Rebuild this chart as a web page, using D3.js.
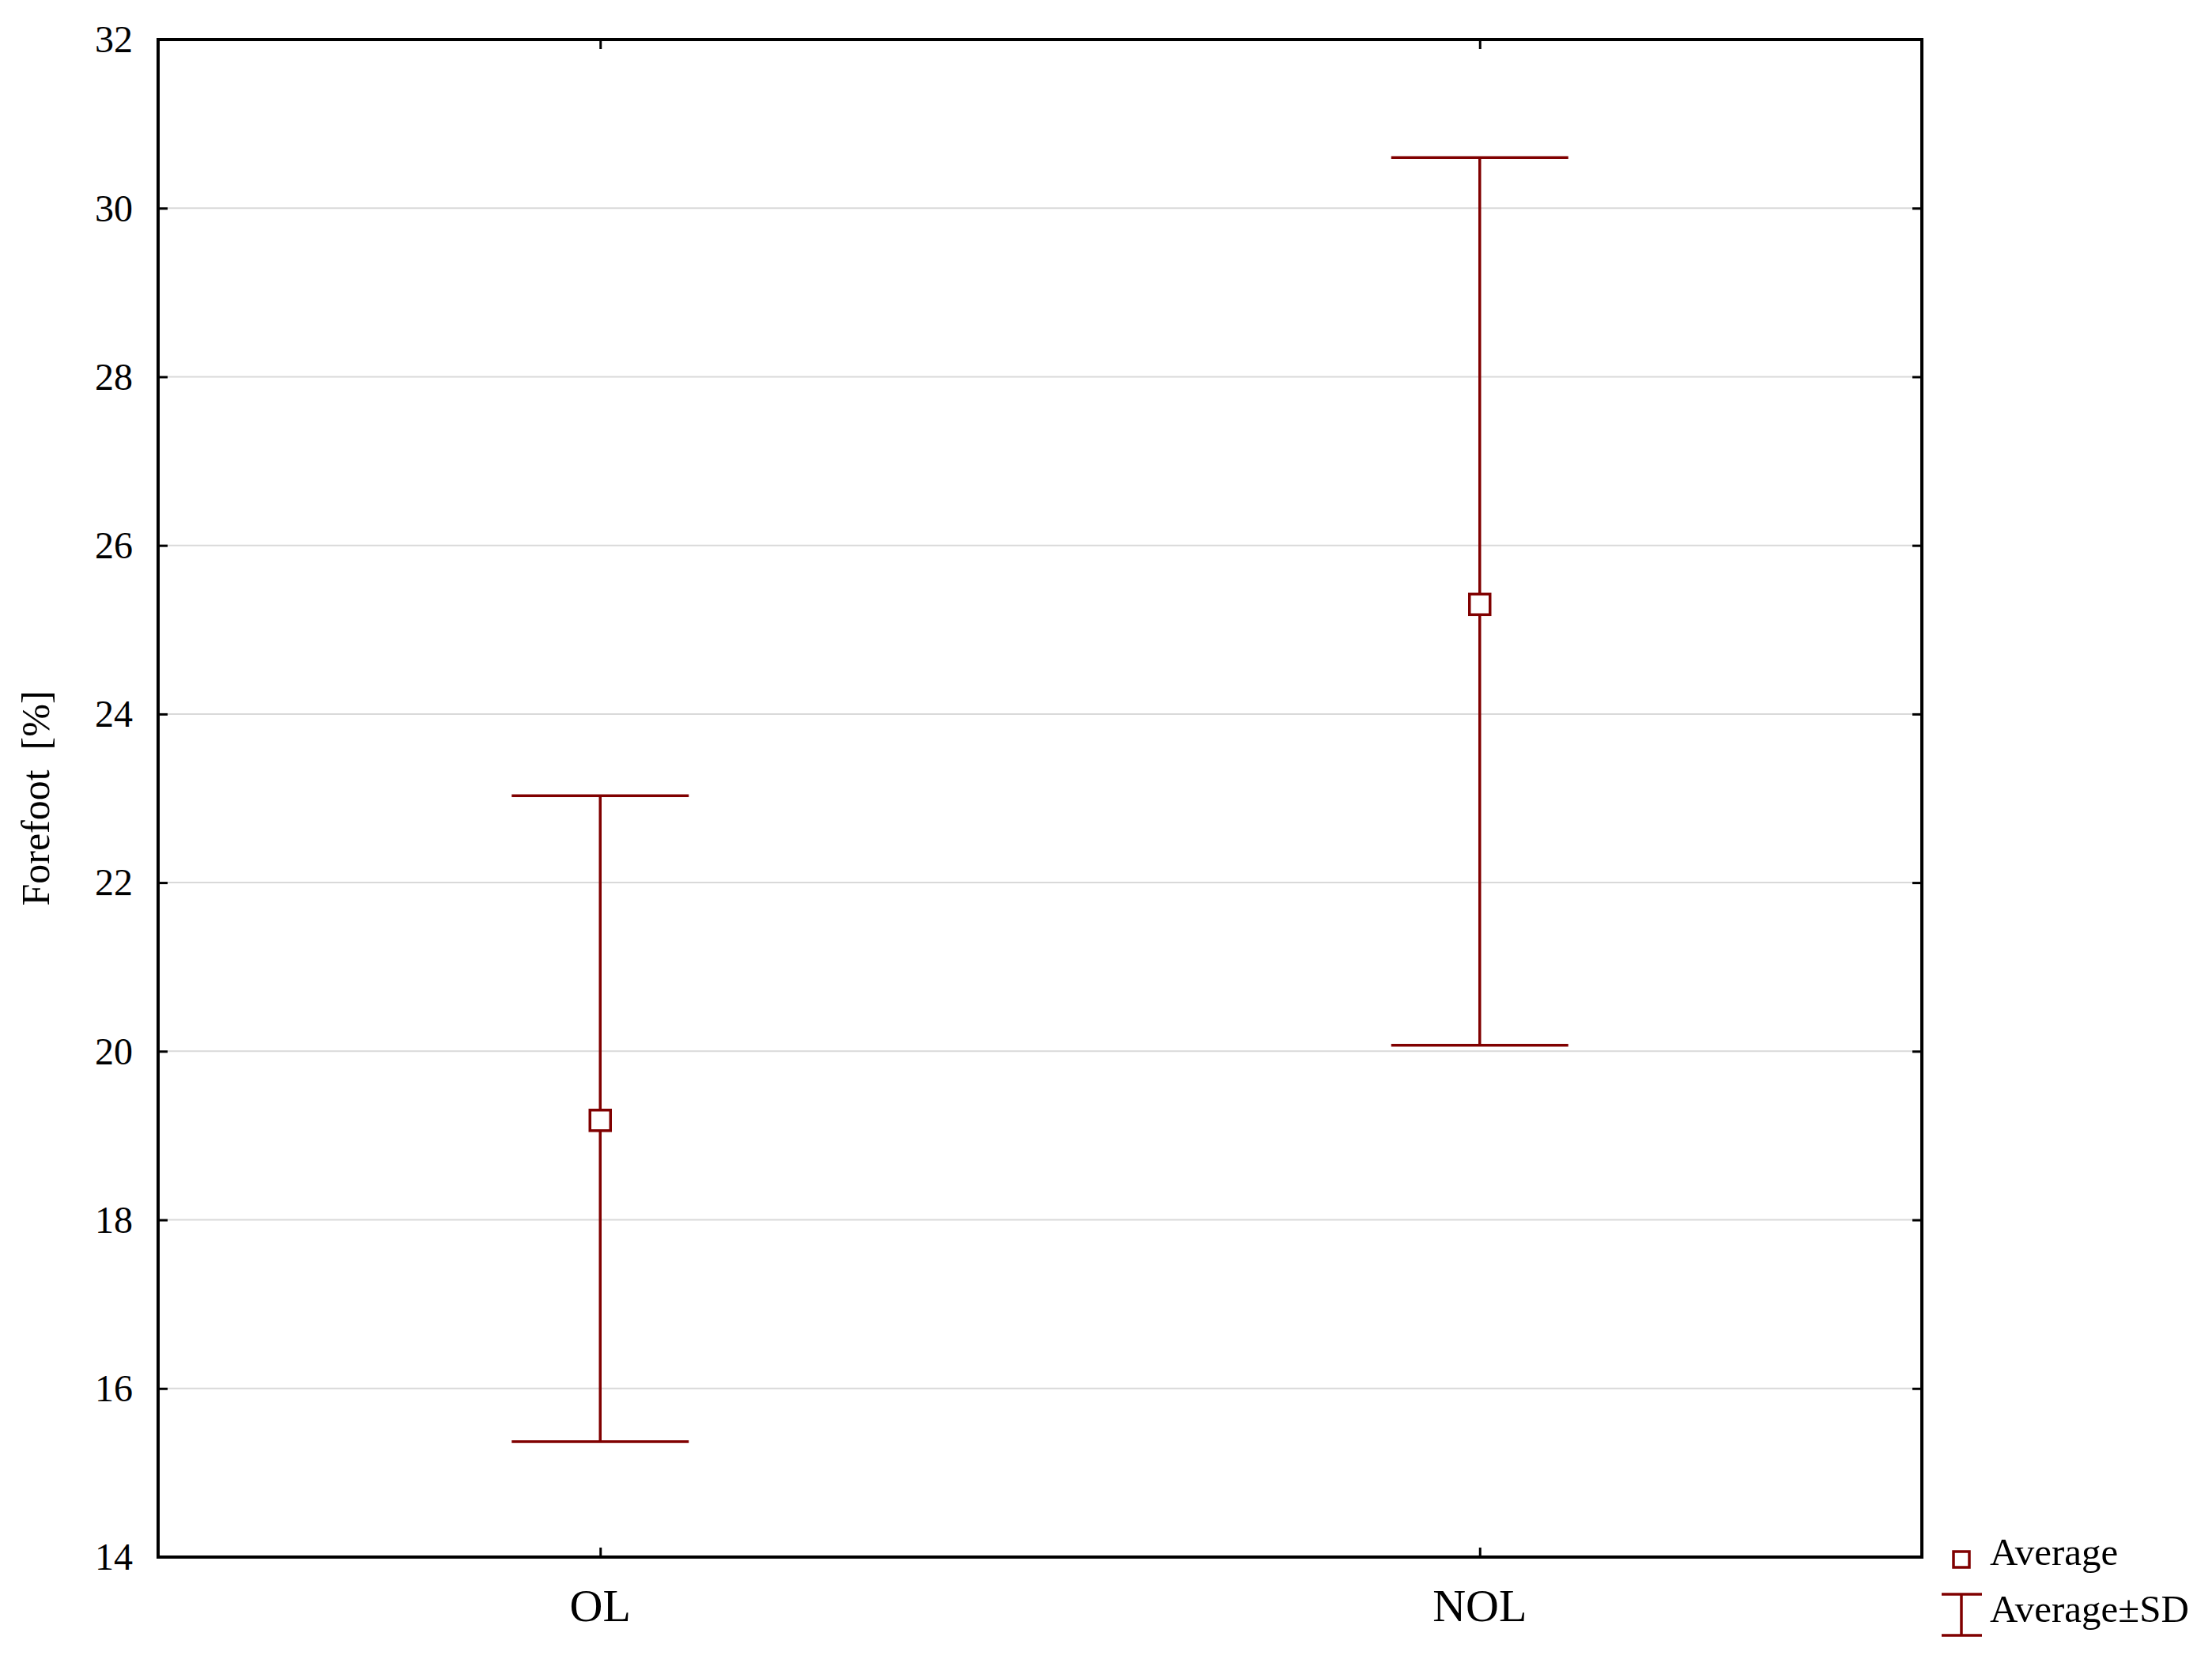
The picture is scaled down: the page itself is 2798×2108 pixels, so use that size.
<!DOCTYPE html>
<html>
<head>
  <meta charset="utf-8">
  <title>Forefoot [%] – Average ± SD</title>
  <script src="https://d3js.org/d3.v7.min.js"></script>
  <style>
    body { margin: 0; background: #fff; }
    text { font-family: "Liberation Serif", "Times New Roman", serif; fill: #000; }
    .grid line { stroke: #d9d9d9; stroke-width: 2px; }
    .axis path { display: none; }
    .axis line { stroke: #000; stroke-width: 3px; }
    .axis text { font-size: 48px; }
    .xlabel { font-size: 58px; }
    .frame { fill: none; stroke: #000; stroke-width: 4px; }
    .bar line { stroke: #800000; stroke-width: 3.5px; }
    .mean { fill: #fff; stroke: #800000; stroke-width: 3.5px; }
  </style>
</head>
<body>
  <svg width="2798" height="2108"></svg>
  <script>
    // data
    const groups = ["OL", "NOL"];
    const means = [19.18, 25.30];
    const lower = [15.37, 20.07];
    const upper = [23.03, 30.60];
    const yTicks = [14, 16, 18, 20, 22, 24, 26, 28, 30, 32];

    const svg = d3.select("svg");
    const margin = {top: 50, right: 367, bottom: 139, left: 200};
    const width = +svg.attr("width") - margin.left - margin.right,
          height = +svg.attr("height") - margin.top - margin.bottom;
    const red = "#800000";

    const g = svg.append("g").attr("transform", `translate(${margin.left},${margin.top})`);

    const x = d3.scalePoint().domain(groups).range([3, width - 3]).padding(0.5);
    const y = d3.scaleLinear().domain([14, 32]).range([height, 0]);

    // horizontal grid
    g.append("g").attr("class", "grid")
      .selectAll("line")
      .data(yTicks.slice(1, -1))
      .join("line")
      .attr("x1", 0).attr("x2", width)
      .attr("y1", d => y(d)).attr("y2", d => y(d));

    // left axis with inward ticks
    const left = g.append("g").attr("class", "axis")
      .call(d3.axisLeft(y).tickValues(yTicks).tickSize(-12).tickPadding(32).tickFormat(d3.format("d")));
    left.selectAll("text").attr("dy", "0.33em");

    // right axis ticks
    g.append("g").attr("class", "axis")
      .attr("transform", `translate(${width},0)`)
      .call(d3.axisRight(y).tickValues(yTicks).tickSize(-12).tickFormat(""));

    // top / bottom ticks at the categories
    g.append("g").attr("class", "axis")
      .call(d3.axisTop(x).tickSize(-12).tickFormat(""));
    const bottom = g.append("g").attr("class", "axis")
      .attr("transform", `translate(0,${height})`)
      .call(d3.axisBottom(x).tickSize(-12).tickPadding(0));
    bottom.selectAll("text").remove();

    g.selectAll(".xlabel")
      .data(groups)
      .join("text")
      .attr("class", "xlabel")
      .attr("x", d => x(d))
      .attr("y", height + 81)
      .attr("text-anchor", "middle")
      .text(d => d);

    // error bars (average ± SD)
    const capW = 112;
    const bars = g.selectAll(".bar")
      .data(groups.map((d, i) => ({g: d, m: means[i], lo: lower[i], hi: upper[i]})))
      .join("g")
      .attr("class", "bar");

    bars.append("line")
      .attr("x1", d => x(d.g)).attr("x2", d => x(d.g))
      .attr("y1", d => y(d.hi)).attr("y2", d => y(d.lo));
    bars.append("line")
      .attr("x1", d => x(d.g) - capW).attr("x2", d => x(d.g) + capW)
      .attr("y1", d => y(d.hi)).attr("y2", d => y(d.hi));
    bars.append("line")
      .attr("x1", d => x(d.g) - capW).attr("x2", d => x(d.g) + capW)
      .attr("y1", d => y(d.lo)).attr("y2", d => y(d.lo));

    const sq = 26;
    bars.append("rect")
      .attr("class", "mean")
      .attr("x", d => x(d.g) - sq / 2)
      .attr("y", d => y(d.m) - sq / 2)
      .attr("width", sq).attr("height", sq);

    // plot frame
    g.append("rect").attr("class", "frame")
      .attr("width", width).attr("height", height);

    // y axis title
    svg.append("text")
      .attr("transform", `translate(62,${margin.top + height / 2}) rotate(-90)`)
      .attr("text-anchor", "middle")
      .attr("font-size", 50)
      .attr("xml:space", "preserve")
      .style("white-space", "pre")
      .text("Forefoot  [%]");

    // legend
    const lg = svg.append("g").attr("transform", "translate(2481,0)");
    lg.append("rect")
      .attr("x", -10).attr("y", 1962).attr("width", 20).attr("height", 20)
      .attr("fill", "#fff").attr("stroke", red).attr("stroke-width", 3.5);
    lg.append("text").attr("x", 36).attr("y", 1979).attr("font-size", 49).text("Average");

    lg.append("line").attr("x1", 0).attr("x2", 0).attr("y1", 2016).attr("y2", 2068)
      .attr("stroke", red).attr("stroke-width", 3.5);
    lg.append("line").attr("x1", -25).attr("x2", 26).attr("y1", 2016).attr("y2", 2016)
      .attr("stroke", red).attr("stroke-width", 3.5);
    lg.append("line").attr("x1", -25).attr("x2", 26).attr("y1", 2068).attr("y2", 2068)
      .attr("stroke", red).attr("stroke-width", 3.5);
    lg.append("text").attr("x", 36).attr("y", 2051).attr("font-size", 49).text("Average±SD");
  </script>
</body>
</html>
